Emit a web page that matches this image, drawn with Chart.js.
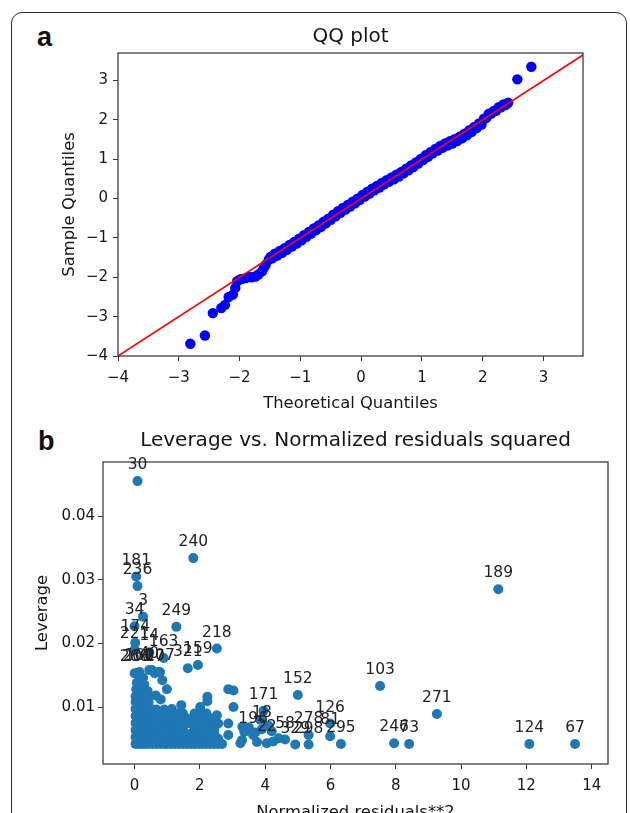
<!DOCTYPE html>
<html>
<head>
<meta charset="utf-8">
<script src="https://cdn.jsdelivr.net/npm/chart.js@4.4.0/dist/chart.umd.min.js"></script>
<style>
html, body { margin: 0; padding: 0; background: #fff; overflow: hidden; width: 630px; height: 813px; }
#wrap { position: relative; width: 630px; height: 813px; overflow: hidden; }
#frame { position: absolute; left: 11px; top: 12px; width: 614px; height: 900px; border: 1.5px solid #2b2b2b; border-radius: 11px; }
.tag { position: absolute; font: bold 27px "Liberation Sans", Arial, sans-serif; line-height: 27px; color: #111; }
canvas { position: absolute; left: 0; }
</style>
</head>
<body>
<div id="wrap">
  <div id="frame"></div>
  <div class="tag" style="left:37px;top:24px">a</div>
  <div class="tag" style="left:38px;top:428px">b</div>
  <canvas id="qq" width="630" height="420" style="top:0"></canvas>
  <canvas id="lev" width="630" height="413" style="top:420px"></canvas>
</div>
<script>
// ---- panel a: QQ plot, [theoretical, sample] ----
const qqPoints = [
  [-2.81,-3.69],[-2.57,-3.48],[-2.44,-2.91],[-2.30,-2.78],[-2.24,-2.70],[-2.18,-2.50],
  [-2.11,-2.44],[-2.07,-2.27],[-2.04,-2.10],[-2.00,-2.06],[-1.96,-2.04],[-1.90,-2.02],
  [-1.85,-1.99],[-1.80,-2.00],[-1.74,-1.98],[-1.69,-1.93],[-1.63,-1.85],[-1.60,-1.76],
  [-1.57,-1.68],[-1.52,-1.55],[-1.49,-1.48],
  [-1.46,-1.52],[-1.42,-1.40],[-1.38,-1.45],[-1.34,-1.33],[-1.30,-1.38],[-1.26,-1.26],
  [-1.22,-1.30],[-1.18,-1.18],[-1.14,-1.22],[-1.10,-1.10],[-1.06,-1.14],[-1.02,-1.02],
  [-0.98,-1.06],[-0.94,-0.93],[-0.90,-0.97],[-0.86,-0.85],[-0.82,-0.89],[-0.78,-0.76],
  [-0.74,-0.80],[-0.70,-0.68],[-0.66,-0.72],[-0.62,-0.59],[-0.58,-0.63],[-0.54,-0.51],
  [-0.50,-0.54],[-0.46,-0.41],[-0.42,-0.45],[-0.38,-0.32],[-0.34,-0.36],[-0.30,-0.24],
  [-0.26,-0.28],[-0.22,-0.16],[-0.18,-0.20],[-0.14,-0.08],[-0.10,-0.12],[-0.06,0.00],
  [-0.02,-0.03],[0.02,0.09],[0.06,0.05],[0.10,0.17],[0.14,0.13],[0.18,0.25],
  [0.22,0.21],[0.26,0.32],[0.30,0.28],[0.34,0.40],[0.38,0.36],[0.42,0.47],
  [0.46,0.43],[0.50,0.54],[0.54,0.49],[0.58,0.61],[0.62,0.56],[0.66,0.68],
  [0.70,0.64],[0.74,0.76],[0.78,0.72],[0.82,0.84],[0.86,0.80],[0.90,0.92],
  [0.94,0.89],[0.98,1.01],[1.02,0.98],[1.06,1.10],[1.10,1.06],[1.14,1.18],
  [1.18,1.15],[1.22,1.26],[1.26,1.22],[1.30,1.34],[1.34,1.29],[1.38,1.40],
  [1.42,1.35],[1.46,1.46],[1.50,1.40],[1.54,1.51],[1.58,1.46],[1.62,1.57],
  [1.66,1.53],[1.70,1.65],[1.74,1.61],[1.78,1.74],[1.82,1.70],[1.86,1.82],
  [1.90,1.79],[1.94,1.91],[1.98,1.88],[2.02,2.03],[2.06,2.05],[2.10,2.16],
  [2.14,2.16],[2.18,2.23],[2.22,2.23],[2.26,2.32],[2.30,2.32],[2.34,2.39],
  [2.38,2.38],[2.42,2.44],
  [2.57,3.03],[2.80,3.35]
];
const qqLine = [-4, 3.65];
const qqTicks = [-4, -3, -2, -1, 0, 1, 2, 3];

// ---- panel b: leverage vs normalized residuals squared ----
// unlabelled observations [resid**2, leverage]
const levCloud = [
  // dense block near zero
  [0.03,0.0042],[0.13,0.0042],[0.23,0.0042],[0.33,0.0042],[0.43,0.0042],
  [0.03,0.0053],[0.13,0.0053],[0.23,0.0053],[0.33,0.0053],[0.43,0.0053],
  [0.03,0.0064],[0.13,0.0064],[0.23,0.0064],[0.33,0.0064],[0.43,0.0064],
  [0.03,0.0075],[0.13,0.0075],[0.23,0.0075],[0.33,0.0075],[0.43,0.0075],
  [0.03,0.0086],[0.13,0.0086],[0.23,0.0086],[0.33,0.0086],[0.43,0.0086],
  [0.03,0.0097],[0.13,0.0097],[0.23,0.0097],[0.33,0.0097],[0.43,0.0097],
  [0.03,0.0108],[0.13,0.0108],[0.23,0.0108],[0.33,0.0108],[0.43,0.0108],
  [0.03,0.0117],[0.13,0.0117],[0.23,0.0117],[0.33,0.0117],[0.43,0.0117],
  [0.08,0.0048],[0.18,0.0048],[0.28,0.0048],[0.38,0.0048],
  [0.08,0.0059],[0.18,0.0059],[0.28,0.0059],[0.38,0.0059],
  [0.08,0.0070],[0.18,0.0070],[0.28,0.0070],[0.38,0.0070],
  [0.08,0.0081],[0.18,0.0081],[0.28,0.0081],[0.38,0.0081],
  [0.08,0.0092],[0.18,0.0092],[0.28,0.0092],[0.38,0.0092],
  [0.08,0.0103],[0.18,0.0103],[0.28,0.0103],[0.38,0.0103],
  [0.08,0.0113],[0.18,0.0113],[0.28,0.0113],[0.38,0.0113],
  [0.55,0.0042],[0.67,0.0042],[0.79,0.0042],[0.91,0.0042],
  [0.55,0.0053],[0.67,0.0053],[0.79,0.0053],[0.91,0.0053],
  [0.55,0.0064],[0.67,0.0064],[0.79,0.0064],[0.91,0.0064],
  [0.55,0.0075],[0.67,0.0075],[0.79,0.0075],[0.91,0.0075],
  [0.55,0.0086],[0.67,0.0086],[0.79,0.0086],
  [0.55,0.0096],[0.67,0.0096],[0.91,0.0096],
  [0.61,0.0048],[0.73,0.0048],[0.85,0.0048],
  [0.61,0.0059],[0.73,0.0059],[0.85,0.0059],
  [0.61,0.0070],[0.73,0.0070],[0.85,0.0070],
  [0.61,0.0081],[0.73,0.0081],[0.85,0.0081],
  [0.61,0.0091],[0.73,0.0091],[0.85,0.0091],
  // points just above the block
  [0.05,0.0128],[0.20,0.0126],[0.07,0.0138],[0.26,0.0146],[0.53,0.0158],[0.73,0.0155],
  [0.85,0.0142],[0.99,0.0128],[0.65,0.0118],[0.80,0.0112],[0.40,0.0125],[0.30,0.0135],
  // spread between 1 and 2.7
  [1.00,0.0042],[1.12,0.0042],[1.24,0.0042],[1.36,0.0042],[1.48,0.0042],[1.60,0.0042],
  [1.72,0.0042],[1.84,0.0042],[1.96,0.0042],[2.08,0.0042],[2.20,0.0042],[2.32,0.0042],
  [2.44,0.0042],[2.56,0.0042],[2.68,0.0042],
  [1.00,0.0050],[1.12,0.0050],[1.24,0.0050],[1.48,0.0050],[1.60,0.0050],[1.72,0.0050],
  [1.84,0.0050],[2.08,0.0050],[2.20,0.0050],[2.32,0.0050],[2.56,0.0050],
  [1.00,0.0058],[1.12,0.0058],[1.36,0.0058],[1.48,0.0058],[1.72,0.0058],[1.84,0.0058],
  [1.96,0.0058],[2.08,0.0058],[2.32,0.0058],[2.44,0.0058],
  [1.00,0.0066],[1.24,0.0066],[1.36,0.0066],[1.48,0.0066],[1.84,0.0066],[1.96,0.0066],
  [2.08,0.0066],[2.20,0.0066],[2.44,0.0066],
  [1.12,0.0074],[1.24,0.0074],[1.36,0.0074],[1.60,0.0074],[1.72,0.0074],[1.96,0.0074],
  [2.08,0.0074],[2.20,0.0074],[2.44,0.0074],[2.56,0.0074],
  [1.00,0.0082],[1.12,0.0082],[1.24,0.0082],[1.48,0.0082],[1.60,0.0082],[1.84,0.0082],
  [1.96,0.0082],[2.20,0.0082],[2.32,0.0082],
  [1.12,0.0090],[1.36,0.0090],[1.48,0.0090],[1.84,0.0090],[1.96,0.0090],[2.20,0.0090],
  [1.14,0.0097],[1.43,0.0103],[2.01,0.0100],[2.23,0.0116],[2.23,0.0109],[2.52,0.0087],
  // sparse points 2.8 - 4.5
  [2.87,0.0056],[2.87,0.0074],[3.03,0.0100],[2.87,0.0128],[3.03,0.0126],[3.24,0.0043],
  [3.36,0.0061],[3.29,0.0048],[3.30,0.0069],[3.50,0.0068],[3.75,0.0045],[4.25,0.0046],
  [4.41,0.0051],[3.85,0.0080],[4.10,0.0071],[3.70,0.0060],[4.20,0.0062]
];
// labelled observations
const levNames = ['30','240','181','236','3','34','174','221','14','163',
  '260','200','160','40','27','207','249','218','159','321',
  '152','171','103','18','196','58','22','329','298','278',
  '81','126','295','246','73','271','189','124','67'];
const levNamesX = [0.09,1.80,0.05,0.09,0.26,0.0,0.02,0.0,0.45,0.89,
  0.0,0.08,0.15,0.45,0.62,0.78,1.28,2.52,1.94,1.63,
  5.00,3.95,7.52,3.90,3.63,4.61,4.05,4.92,5.33,5.33,
  5.99,5.99,6.32,7.95,8.41,9.26,11.14,12.09,13.49];
const levNamesY = [0.0455,0.0334,0.0305,0.0290,0.0242,0.0227,0.0201,0.0190,0.0186,0.0177,
  0.0153,0.0153,0.0155,0.0158,0.0153,0.0155,0.0226,0.0192,0.0166,0.0161,
  0.0119,0.0094,0.0133,0.0065,0.0056,0.0049,0.0043,0.0041,0.0041,0.0056,
  0.0054,0.0074,0.0042,0.0043,0.0042,0.0089,0.0285,0.0042,0.0042];

const FONT = 'DejaVu Sans';
const TXT = '#151515';

function minusFmt(v) {
  return v < 0 ? '\u2212' + Math.abs(v) : String(v);
}

// frame around the axes + point annotations
const boxAndLabels = {
  id: 'boxAndLabels',
  afterDatasetsDraw(chart, args, opts) {
    const { ctx, chartArea: a, scales } = chart;
    ctx.save();
    ctx.strokeStyle = '#3c3c3c';
    ctx.lineWidth = 1.3;
    ctx.strokeRect(a.left, a.top, a.right - a.left, a.bottom - a.top);
    if (opts.names) {
      ctx.font = '15.5px "' + FONT + '"';
      ctx.fillStyle = '#222';
      ctx.textAlign = 'center';
      ctx.textBaseline = 'middle';
      opts.names.forEach((n, i) => {
        const px = scales.x.getPixelForValue(opts.xs[i]);
        const py = scales.y.getPixelForValue(opts.ys[i]);
        ctx.fillText(n, px, py - 16);
      });
    }
    ctx.restore();
  }
};

function axis(o) {
  return {
    type: 'linear',
    min: o.min, max: o.max,
    afterBuildTicks: (s) => { s.ticks = o.ticks.map(v => ({ value: v })); },
    ticks: {
      autoSkip: false, maxRotation: 0,
      padding: o.tickPad, color: TXT, font: { family: FONT, size: 15 },
      callback: o.fmt
    },
    grid: { drawOnChartArea: false, drawTicks: true, tickLength: 5, color: '#333', tickWidth: 1 },
    border: { display: false },
    title: {
      display: true, text: o.title, color: TXT, font: { family: FONT, size: 16.4 },
      padding: o.vertical ? { top: o.titlePad, bottom: 0 } : { top: 0, bottom: o.titlePad }
    },
    afterFit(s) { if (o.vertical) s.width = o.size; else s.height = o.size; }
  };
}

function baseOptions(titleText, titlePad, padRight) {
  return {
    responsive: false, animation: false, devicePixelRatio: 1,
    layout: { padding: { left: 0, right: padRight, top: 0, bottom: 0 }, autoPadding: false },
    plugins: {
      legend: { display: false },
      tooltip: { enabled: false },
      title: {
        display: true, text: titleText, fullSize: false, color: TXT,
        font: { family: FONT, size: 20, weight: 'normal' }, padding: titlePad
      }
    }
  };
}

// panel a
const qqOpts = baseOptions('QQ plot', { top: 25, bottom: 4 }, 47);
qqOpts.scales = {
  x: axis({ min: -4, max: 3.65, ticks: qqTicks, tickPad: 8, fmt: minusFmt,
            title: 'Theoretical Quantiles', titlePad: 6, size: 64 }),
  y: axis({ min: -4, max: 3.7, ticks: qqTicks, tickPad: 5, fmt: minusFmt, vertical: true,
            title: 'Sample Quantiles', titlePad: 60, size: 118 })
};
new Chart(document.getElementById('qq'), {
  type: 'scatter',
  data: {
    datasets: [
      { type: 'line', data: qqLine.map(v => ({ x: v, y: v })), borderColor: '#ff0000',
        borderWidth: 1.6, pointRadius: 0, order: 0 },
      { data: qqPoints.map(p => ({ x: p[0], y: p[1] })), backgroundColor: '#0000ff',
        borderWidth: 0, pointRadius: 5.2, order: 1 }
    ]
  },
  options: qqOpts,
  plugins: [boxAndLabels]
});

// panel b
const levOpts = baseOptions('Leverage vs. Normalized residuals squared', { top: 9, bottom: 9 }, 22);
levOpts.plugins.boxAndLabels = { names: levNames, xs: levNamesX, ys: levNamesY };
levOpts.scales = {
  x: axis({ min: -0.967, max: 14.5, ticks: [0, 2, 4, 6, 8, 10, 12, 14], tickPad: 8,
            fmt: v => String(v), title: 'Normalized residuals**2', titlePad: 10, size: 69 }),
  y: axis({ min: 0.00105, max: 0.0485, ticks: [0.01, 0.02, 0.03, 0.04], tickPad: 3,
            fmt: v => v.toFixed(2), vertical: true, title: 'Leverage', titlePad: 33, size: 103 })
};
const levData = levCloud.map(p => ({ x: p[0], y: p[1] }))
  .concat(levNames.map((n, i) => ({ x: levNamesX[i], y: levNamesY[i] })));
new Chart(document.getElementById('lev'), {
  type: 'scatter',
  data: {
    datasets: [
      { data: levData, backgroundColor: '#1f77b4', borderWidth: 0, pointRadius: 5 }
    ]
  },
  options: levOpts,
  plugins: [boxAndLabels]
});
</script>
</body>
</html>
